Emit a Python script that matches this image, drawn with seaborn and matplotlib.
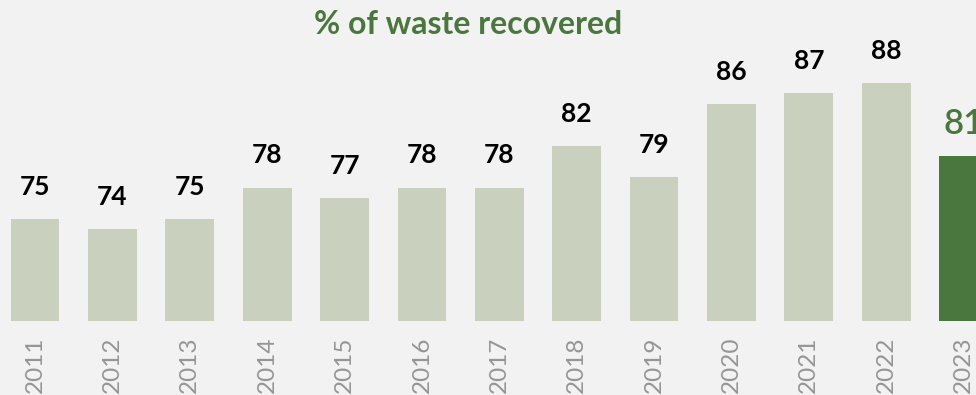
import matplotlib
matplotlib.use("Agg")
import matplotlib.pyplot as plt
import seaborn as sns
import pandas as pd

years = ["2011", "2012", "2013", "2014", "2015", "2016", "2017", "2018", "2019", "2020", "2021", "2022", "2023"]
values = [75, 74, 75, 78, 77, 78, 78, 82, 79, 86, 87, 88, 81]
highlight_year = "2023"
title = "% of waste recovered"

LIGHT = "#c9d0bd"
DARK = "#4a773e"
BG = "#f2f2f2"

sns.set_theme(style="white")
plt.rcParams["font.family"] = ["Lato", "DejaVu Sans"]

df = pd.DataFrame({"year": years, "value": values})
palette = {y: (DARK if y == highlight_year else LIGHT) for y in years}

fig = plt.figure(figsize=(9.76, 3.95), dpi=100, facecolor=BG)
ax = fig.add_axes([0, 74 / 395, 1, 321 / 395])
ax.set_facecolor(BG)

sns.barplot(data=df, x="year", y="value", hue="year", palette=palette,
            width=0.63, legend=False, ax=ax, saturation=1, linewidth=0, edgecolor="none")

ax.set_ylim(65.25, 65.25 + 321 / 10.46)
ax.set_xlim(-0.452, 12.16)

for i, (y, v) in enumerate(zip(years, values)):
    if y == highlight_year:
        ax.annotate(str(v), (i, v), xytext=(0, 12), textcoords="offset points",
                    ha="center", va="bottom", fontsize=25, color=DARK, fontweight="semibold")
    else:
        ax.annotate(str(v), (i, v), xytext=(0, 14.5), textcoords="offset points",
                    ha="center", va="bottom", fontsize=19, color="black", fontweight="bold")

ax.set_xlabel("")
ax.set_ylabel("")
ax.set_yticks([])
ax.tick_params(axis="x", length=0, pad=11, labelsize=17.5, labelcolor="#959595", rotation=90)
for s in ax.spines.values():
    s.set_visible(False)

fig.text(468 / 976, 1 - 25 / 395, title, ha="center", va="center",
         fontsize=23, fontweight="bold", color="#4a773e")

fig.savefig("out.png", dpi=100, facecolor=BG)
